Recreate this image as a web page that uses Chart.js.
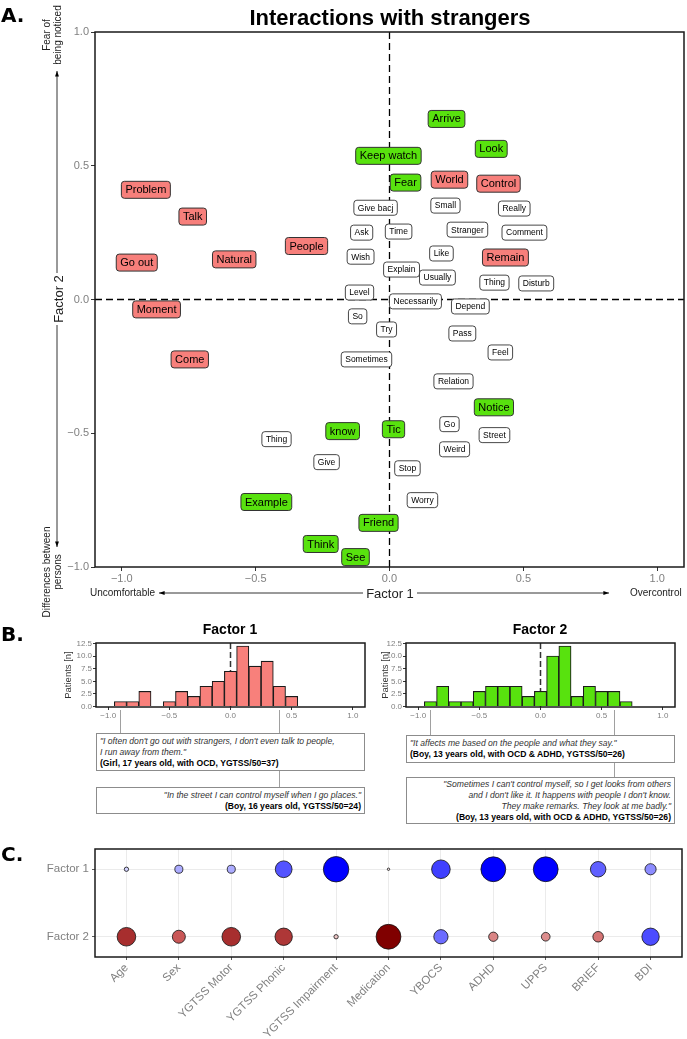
<!DOCTYPE html>
<html><head><meta charset="utf-8">
<script src="https://cdn.jsdelivr.net/npm/chart.js@4.4.1/dist/chart.umd.min.js"></script>
<style>
html,body{margin:0;padding:0;background:#fff;}
body{position:relative;width:687px;height:1039px;overflow:hidden;font-family:"Liberation Sans",Arial,sans-serif;color:#000;}
canvas{position:absolute;}
.t{position:absolute;white-space:nowrap;line-height:1;}
.c{transform:translate(-50%,-50%);}
.letter{font-family:"DejaVu Sans",sans-serif;font-weight:bold;font-size:20px;}
.rot{transform:translate(-50%,-50%) rotate(-90deg);text-align:center;}
.q{position:absolute;box-sizing:border-box;border:1px solid #8c8c8c;background:#fff;font-size:8.6px;line-height:11px;padding:1.5px 3px 0 3px;white-space:nowrap;color:#333;}
.q b{color:#000;font-style:normal;}
.q i{font-style:italic;}
svg{position:absolute;left:0;top:0;pointer-events:none;}
</style></head>
<body>
<canvas id="cA" width="687" height="610" style="left:0;top:0"></canvas>
<canvas id="cB1" width="370" height="225" style="left:0;top:615px"></canvas>
<canvas id="cB2" width="347" height="225" style="left:340px;top:615px"></canvas>
<canvas id="cC" width="687" height="199" style="left:0;top:840px"></canvas>

<svg width="687" height="1039">
 <defs><marker id="ah" viewBox="0 0 10 10" refX="10" refY="5" markerWidth="7" markerHeight="7" orient="auto"><path d="M0,1.5 L10,5 L0,8.5 z" fill="#000"/></marker></defs>
 <line x1="57" y1="273" x2="57" y2="71" stroke="#000" stroke-width="0.8" marker-end="url(#ah)"/>
 <line x1="57" y1="325" x2="57" y2="547" stroke="#000" stroke-width="0.8" marker-end="url(#ah)"/>
 <line x1="363" y1="593" x2="159" y2="593" stroke="#000" stroke-width="0.8" marker-end="url(#ah)"/>
 <line x1="417" y1="593" x2="609" y2="593" stroke="#000" stroke-width="0.8" marker-end="url(#ah)"/>
</svg>

<div class="t letter" style="left:1px;top:5px">A.</div>
<div class="t c" style="left:390px;top:18px;font-weight:bold;font-size:22px">Interactions with strangers</div>
<div class="t rot" style="left:52px;top:35px;font-size:10px;line-height:11px;color:#222">Fear of<br>being noticed</div>
<div class="t rot" style="left:58px;top:299px;font-size:13px;color:#222">Factor 2</div>
<div class="t rot" style="left:52px;top:572px;font-size:10px;line-height:11px;color:#222">Differences between<br>persons</div>
<div class="t c" style="left:390px;top:593px;font-size:13px;color:#222">Factor 1</div>
<div class="t" style="left:90px;top:588px;font-size:10px;color:#222">Uncomfortable</div>
<div class="t" style="left:630px;top:588px;font-size:10px;color:#222">Overcontrol</div>

<div class="t letter" style="left:1px;top:624px">B.</div>
<div class="t c" style="left:230px;top:629px;font-weight:bold;font-size:14px">Factor 1</div>
<div class="t c" style="left:540px;top:629px;font-weight:bold;font-size:14px">Factor 2</div>

<div class="q" style="left:96px;top:733px;width:269px;height:38px"><i>"I often don't go out with strangers, I don't even talk to people,<br>I run away from them."</i><br><b>(Girl, 17 years old, with OCD, YGTSS/50=37)</b></div>
<div class="q" style="left:96px;top:787px;width:269px;height:27px;text-align:right;padding-top:2px"><i>"In the street I can control myself when I go places."</i><br><b>(Boy, 16 years old, YGTSS/50=24)</b></div>
<div class="q" style="left:406px;top:735px;width:269px;height:28px"><i>"It affects me based on the people and what they say."</i><br><b>(Boy, 13 years old, with OCD &amp; ADHD, YGTSS/50=26)</b></div>
<div class="q" style="left:406px;top:777px;width:269px;height:47px;text-align:right;padding-top:1px"><i>"Sometimes I can't control myself, so I get looks from others<br>and I don't like it. It happens with people I don't know.<br>They make remarks. They look at me badly."</i><br><b>(Boy, 13 years old, with OCD &amp; ADHD, YGTSS/50=26)</b></div>

<div class="t letter" style="left:1px;top:844px">C.</div>

<script>
// ---------- Panel A data ----------
const redWords = ['Problem','Talk','Go out','Natural','People','Moment','Come','World','Control','Remain'];
const redF1 = [-0.91,-0.735,-0.944,-0.58,-0.31,-0.87,-0.746,0.224,0.407,0.433];
const redF2 = [0.41,0.31,0.138,0.15,0.20,-0.037,-0.224,0.448,0.433,0.157];

const greenWords = ['Arrive','Look','Keep watch','Fear','Notice','Tic','know','Example','Friend','Think','See'];
const greenF1 = [0.213,0.38,-0.004,0.06,0.39,0.015,-0.175,-0.46,-0.041,-0.257,-0.127];
const greenF2 = [0.675,0.563,0.537,0.437,-0.403,-0.485,-0.492,-0.757,-0.835,-0.914,-0.963];

const whiteWords = ['Give bacj','Ask','Time','Small','Stranger','Really','Comment','Like','Wish','Explain','Usually','Thing','Disturb','Level','Necessarily','Depend','So','Try','Pass','Feel','Sometimes','Relation','Go','Street','Weird','Stop','Worry','Thing','Give'];
const whiteF1 = [-0.052,-0.104,0.034,0.209,0.291,0.466,0.504,0.194,-0.108,0.045,0.179,0.392,0.548,-0.112,0.097,0.302,-0.119,-0.011,0.272,0.414,-0.086,0.239,0.224,0.392,0.243,0.067,0.123,-0.422,-0.235];
const whiteF2 = [0.343,0.25,0.254,0.351,0.261,0.34,0.25,0.172,0.16,0.112,0.082,0.063,0.06,0.026,-0.007,-0.026,-0.063,-0.112,-0.127,-0.198,-0.224,-0.306,-0.466,-0.507,-0.56,-0.631,-0.75,-0.522,-0.608];

const axisTicks = [-1.0,-0.5,0.0,0.5,1.0];

// ---------- Panel B data ----------
const f1Bins = [-0.9,-0.8,-0.7,-0.6,-0.5,-0.4,-0.3,-0.2,-0.1,0.0,0.1,0.2,0.3,0.4,0.5];
const f1Counts = [1,1,3,0,1,3,2,4,5,7,12,8,9,4,2];
const f2Bins = [-0.9,-0.8,-0.7,-0.6,-0.5,-0.4,-0.3,-0.2,-0.1,0.0,0.1,0.2,0.3,0.4,0.5,0.6,0.7];
const f2Counts = [1,4,1,1,3,4,4,4,2,3,10,12,2,4,3,3,1];
const histYTicks = [0,2.5,5,7.5,10,12.5];
const f1QuoteScores = [-0.9,0.4];
const f2QuoteScores = [-0.9,0.6];

// ---------- Panel C data ----------
const variables = ['Age','Sex','YGTSS Motor','YGTSS Phonic','YGTSS Impairment','Medication','YBOCS','ADHD','UPPS','BRIEF','BDI'];
const factorRows = ['Factor 2','Factor 1'];
const f1Corr = [-0.07,-0.13,-0.13,-0.27,-0.41,0.03,-0.30,-0.40,-0.40,-0.25,-0.18];
const f2Corr = [0.30,0.21,0.30,0.28,0.07,0.40,-0.23,0.15,0.14,0.17,-0.28];

// ---------- helpers ----------
const FAM = '"Liberation Sans", Arial, sans-serif';
Chart.defaults.font.family = FAM;
const fmt1 = v => { const s = (Math.abs(v) < 1e-9 ? 0 : v).toFixed(1); return s.replace('-', '\u2212'); };
const setTicks = arr => (s => { s.ticks = arr.map(v => ({value: v})); });
const fitH = h => (s => { s.height = h; s.paddingLeft = 0; s.paddingRight = 0; });
const fitW = w => (s => { s.width = w; s.paddingTop = 0; s.paddingBottom = 0; });

const frame = {
  id: 'frame',
  afterDraw(chart, args, opts) {
    const {ctx, chartArea: a} = chart;
    ctx.save(); ctx.strokeStyle = '#1a1a1a'; ctx.lineWidth = opts.width || 1.5;
    ctx.strokeRect(a.left, a.top, a.right - a.left, a.bottom - a.top);
    ctx.restore();
  }
};

const zeroLines = {
  id: 'zeroLines',
  beforeDatasetsDraw(chart, args, opts) {
    const {ctx, chartArea: a, scales} = chart;
    ctx.save(); ctx.strokeStyle = opts.color || '#000'; ctx.lineWidth = opts.width || 1.3;
    ctx.setLineDash(opts.dash || [7, 4]);
    const x0 = scales.x.getPixelForValue(0);
    ctx.beginPath(); ctx.moveTo(x0, a.top); ctx.lineTo(x0, a.bottom); ctx.stroke();
    if (opts.horizontal) {
      const y0 = scales.y.getPixelForValue(0);
      ctx.beginPath(); ctx.moveTo(a.left, y0); ctx.lineTo(a.right, y0); ctx.stroke();
    }
    ctx.restore();
  }
};

const wordLabels = {
  id: 'wordLabels',
  afterDatasetsDraw(chart) {
    const ctx = chart.ctx;
    chart.data.datasets.forEach((ds, di) => {
      const meta = chart.getDatasetMeta(di);
      ctx.save();
      ctx.font = ds.textSize + 'px ' + FAM;
      ctx.textAlign = 'center'; ctx.textBaseline = 'middle';
      meta.data.forEach((pt, i) => {
        const txt = ds.words[i];
        const w = ctx.measureText(txt).width + 2 * ds.padX;
        const h = ds.boxH;
        ctx.beginPath();
        ctx.roundRect(pt.x - w / 2, pt.y - h / 2, w, h, 3);
        ctx.fillStyle = ds.boxFill; ctx.fill();
        ctx.lineWidth = ds.borderW; ctx.strokeStyle = '#333'; ctx.stroke();
        ctx.fillStyle = '#000';
        ctx.fillText(txt, pt.x, pt.y + 0.5);
      });
      ctx.restore();
    });
  }
};

const connectors = {
  id: 'connectors',
  afterDraw(chart, args, opts) {
    const {ctx, chartArea: a, scales} = chart;
    ctx.save(); ctx.strokeStyle = '#a0a0a0'; ctx.lineWidth = 1;
    opts.items.forEach(it => {
      const x = Math.round(scales.x.getPixelForValue(it.value)) + 0.5;
      ctx.beginPath(); ctx.moveTo(x, a.bottom + 3); ctx.lineTo(x, it.toY); ctx.stroke();
    });
    ctx.restore();
  }
};

const pts = (xs, ys) => xs.map((x, i) => ({x, y: ys[i]}));

// ---------- Panel A ----------
new Chart(document.getElementById('cA'), {
  type: 'scatter',
  data: { datasets: [
    { data: pts(whiteF1, whiteF2), words: whiteWords, boxFill: '#ffffff', textSize: 8.5, padX: 4, boxH: 15, borderW: 0.9 },
    { data: pts(redF1, redF2), words: redWords, boxFill: '#f77f7b', textSize: 11, padX: 4, boxH: 17, borderW: 1 },
    { data: pts(greenF1, greenF2), words: greenWords, boxFill: '#58e20e', textSize: 11, padX: 4, boxH: 17, borderW: 1 }
  ]},
  options: {
    responsive: false, animation: false, events: [],
    layout: { autoPadding: false, padding: { left: 0, right: 3, top: 32, bottom: 0 } },
    elements: { point: { radius: 0, hoverRadius: 0 } },
    plugins: { legend: { display: false }, tooltip: { enabled: false }, zeroLines: { horizontal: true } },
    scales: {
      x: { type: 'linear', min: -1.1, max: 1.1, afterBuildTicks: setTicks(axisTicks), afterFit: fitH(43),
           grid: { drawOnChartArea: false, tickLength: 4, color: '#333' }, border: { display: false },
           ticks: { color: '#808080', font: { size: 11 }, padding: 1, callback: v => fmt1(v) } },
      y: { type: 'linear', min: -1, max: 1, afterBuildTicks: setTicks(axisTicks), afterFit: fitW(95),
           grid: { drawOnChartArea: false, tickLength: 4, color: '#333' }, border: { display: false },
           ticks: { color: '#808080', font: { size: 11 }, padding: 2, callback: v => fmt1(v) } }
    }
  },
  plugins: [zeroLines, wordLabels, frame]
});

// ---------- Panel B ----------
function hist(id, bins, counts, color, padLeft, yW, padRight, connItems) {
  new Chart(document.getElementById(id), {
    type: 'bar',
    data: { datasets: [{ data: pts(bins, counts), backgroundColor: color, borderColor: '#1a1a1a', borderWidth: 1.1,
                         barPercentage: 1, categoryPercentage: 1, borderSkipped: 'start' }] },
    options: {
      responsive: false, animation: false, events: [],
      layout: { autoPadding: false, padding: { left: padLeft, right: padRight, top: 28, bottom: 118 } },
      plugins: { legend: { display: false }, tooltip: { enabled: false },
                 zeroLines: { color: '#333', width: 1.5, dash: [6, 3] },
                 connectors: { items: connItems }, frame: { width: 1.5 } },
      scales: {
        x: { type: 'linear', min: -1.1, max: 1.1, offset: false, afterBuildTicks: setTicks(axisTicks), afterFit: fitH(15),
             grid: { drawOnChartArea: false, offset: false, tickLength: 3, color: '#333' }, border: { display: false },
             ticks: { color: '#808080', font: { size: 8 }, padding: 1, callback: v => fmt1(v) } },
        y: { type: 'linear', min: -0.1, max: 12.6, afterBuildTicks: setTicks(histYTicks), afterFit: fitW(yW),
             grid: { drawOnChartArea: false, tickLength: 3, color: '#333' }, border: { display: false },
             title: { display: true, text: 'Patients [n]', font: { size: 9.5 }, color: '#333' },
             ticks: { color: '#808080', font: { size: 8 }, padding: 1, callback: v => v.toFixed(1) } }
      }
    },
    plugins: [zeroLines, connectors, frame]
  });
}
hist('cB1', f1Bins, f1Counts, '#f8807b', 59, 37, 5,
     [{ value: f1QuoteScores[0], toY: 118 }, { value: f1QuoteScores[1], toY: 172 }]);
hist('cB2', f2Bins, f2Counts, '#58e20e', 36, 30, 12,
     [{ value: f2QuoteScores[0], toY: 120 }, { value: f2QuoteScores[1], toY: 162 }]);

// ---------- Panel C ----------
const RSCALE = 31;
const radius = v => Math.max(1.2, Math.abs(v) * RSCALE);
function corrColor(v) {
  const t = Math.min(Math.abs(v) / 0.4, 1);
  if (v < 0) { const c = Math.round(255 * (1 - t)); return `rgb(${c},${c},255)`; }
  let r, g, b;
  if (t <= 0.5) { const u = t / 0.5; r = 255 - 50 * u; g = 255 - 163 * u; b = g; }
  else { const u = (t - 0.5) / 0.5; r = 205 - 77 * u; g = 92 - 92 * u; b = g; }
  return `rgb(${Math.round(r)},${Math.round(g)},${Math.round(b)})`;
}
const rowData = (corrs, row) => corrs.map((v, i) => ({ x: i, y: row, r: radius(v) }));
new Chart(document.getElementById('cC'), {
  type: 'bubble',
  data: { datasets: [
    { data: rowData(f1Corr, 1), backgroundColor: f1Corr.map(corrColor), borderColor: '#111', borderWidth: 0.8 },
    { data: rowData(f2Corr, 0), backgroundColor: f2Corr.map(corrColor), borderColor: '#111', borderWidth: 0.8 }
  ]},
  options: {
    responsive: false, animation: false, events: [],
    layout: { autoPadding: false, padding: { left: 0, right: 5, top: 9, bottom: 0 } },
    plugins: { legend: { display: false }, tooltip: { enabled: false }, frame: { width: 1.5 } },
    scales: {
      x: { type: 'linear', min: -0.6, max: 10.6, afterBuildTicks: setTicks(variables.map((v, i) => i)), afterFit: fitH(82),
           grid: { color: '#e6e6e6', lineWidth: 0.8, tickLength: 3, tickColor: '#333' }, border: { display: false },
           ticks: { color: '#808080', font: { size: 11.5 }, padding: 1, autoSkip: false, minRotation: 45, maxRotation: 45,
                    callback: v => variables[v] } },
      y: { type: 'linear', min: -0.3, max: 1.3, afterBuildTicks: setTicks([0, 1]), afterFit: fitW(95),
           grid: { color: '#e6e6e6', lineWidth: 0.8, tickLength: 3, tickColor: '#333' }, border: { display: false },
           ticks: { color: '#808080', font: { size: 11.5 }, padding: 3, callback: v => factorRows[v] } }
    }
  },
  plugins: [frame]
});
</script>
</body></html>
